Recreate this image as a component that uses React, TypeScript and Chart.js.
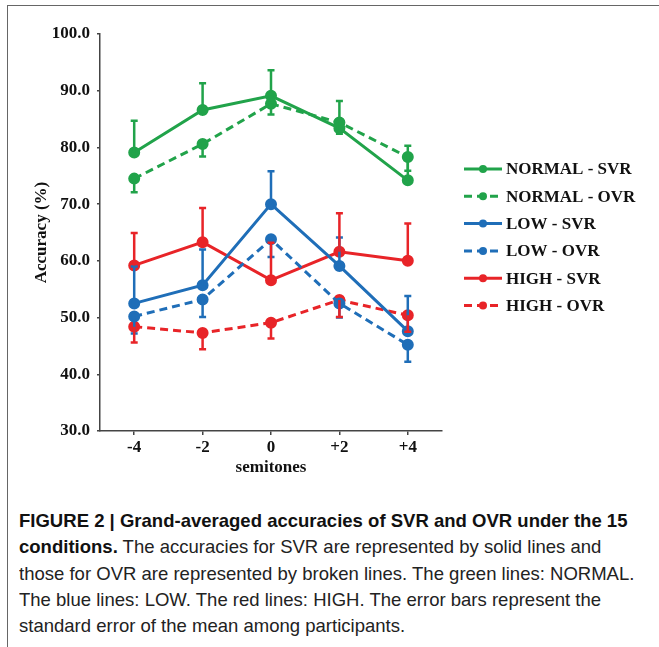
import React, { useEffect, useRef } from "react";
import { Chart, registerables } from "chart.js";

Chart.register(...registerables);

const categories = ["-4", "-2", "0", "+2", "+4"];

const normalSvr = [79.1, 86.6, 89.1, 83.4, 74.2];
const normalSvrErr = [5.6, 4.7, 4.5, 4.8, 6.1];
const normalOvr = [74.5, 80.6, 87.7, 84.4, 78.3];
const normalOvrErr = [2.4, 2.2, 1.9, 2.0, 2.4];
const lowSvr = [52.5, 55.7, 70.0, 59.1, 47.6];
const lowSvrErr = [6.5, 6.3, 5.8, 5.0, 6.2];
const lowOvr = [50.2, 53.2, 63.8, 52.5, 45.2];
const lowOvrErr = [3.0, 3.1, 3.1, 2.5, 3.0];
const highSvr = [59.2, 63.3, 56.6, 61.6, 60.0];
const highSvrErr = [5.7, 6.0, 6.6, 6.8, 6.6];
const highOvr = [48.4, 47.3, 49.1, 53.1, 50.4];
const highOvrErr = [2.8, 2.9, 2.8, 3.0, 2.9];

const seriesLabels = [
  "NORMAL - SVR",
  "NORMAL - OVR",
  "LOW - SVR",
  "LOW - OVR",
  "HIGH - SVR",
  "HIGH - OVR",
];

const GREEN = "rgb(33,163,74)";
const BLUE = "rgb(31,110,184)";
const RED = "rgb(232,36,40)";
const AXIS = "#444";
const SERIF = "'Liberation Serif', 'Times New Roman', serif";

const errorBarPlugin = {
  id: "errorBars",
  afterDatasetsDraw(chart: any) {
    const ctx = chart.ctx;
    const xs = chart.scales.x;
    const ys = chart.scales.y;
    chart.data.datasets.forEach((ds: any) => {
      const errs: number[] = ds.errors;
      const dir: number = ds.errDir;
      ctx.save();
      ctx.strokeStyle = ds.borderColor;
      ctx.lineWidth = 2.5;
      ctx.setLineDash([]);
      ds.data.forEach((v: number, i: number) => {
        const x = xs.getPixelForValue(i);
        const y0 = ys.getPixelForValue(v);
        const y1 = ys.getPixelForValue(v + dir * errs[i]);
        ctx.beginPath();
        ctx.moveTo(x, y0);
        ctx.lineTo(x, y1);
        ctx.moveTo(x - 3.5, y1);
        ctx.lineTo(x + 3.5, y1);
        ctx.stroke();
      });
      ctx.restore();
    });
  },
};

const legendPlugin = {
  id: "customLegend",
  afterDraw(chart: any) {
    const ctx = chart.ctx;
    const x0 = 464;
    const x1 = 502;
    const yStart = 169;
    const step = 27.3;
    chart.data.datasets.forEach((ds: any, i: number) => {
      const y = yStart + i * step;
      ctx.save();
      ctx.strokeStyle = ds.borderColor;
      ctx.lineWidth = 3;
      ctx.setLineDash(ds.borderDash || []);
      ctx.beginPath();
      ctx.moveTo(x0, y);
      ctx.lineTo(x1, y);
      ctx.stroke();
      ctx.setLineDash([]);
      ctx.fillStyle = ds.borderColor;
      ctx.beginPath();
      ctx.arc((x0 + x1) / 2, y, 4, 0, Math.PI * 2);
      ctx.fill();
      ctx.fillStyle = "#111";
      ctx.font = `bold 17px ${SERIF}`;
      ctx.textBaseline = "middle";
      ctx.textAlign = "left";
      ctx.fillText(ds.label, 506, y + 1);
      ctx.restore();
    });
  },
};

function mk(label: string, data: number[], errors: number[], color: string, dashed: boolean) {
  return {
    label,
    data,
    errors,
    errDir: dashed ? -1 : 1,
    borderColor: color,
    backgroundColor: color,
    pointBackgroundColor: color,
    pointBorderColor: color,
    borderWidth: 3,
    borderDash: dashed ? [8, 5] : [],
    pointRadius: 4.5,
    pointHoverRadius: 4.5,
    tension: 0,
    fill: false,
  };
}

const captionLines: { bold?: string; text: string }[] = [
  { bold: "FIGURE 2 | Grand-averaged accuracies of SVR and OVR under the 15", text: "" },
  { bold: "conditions.", text: " The accuracies for SVR are represented by solid lines and" },
  { text: "those for OVR are represented by broken lines. The green lines: NORMAL." },
  { text: "The blue lines: LOW. The red lines: HIGH. The error bars represent the" },
  { text: "standard error of the mean among participants." },
];

export default function App() {
  const ref = useRef<HTMLCanvasElement | null>(null);
  useEffect(() => {
    if (!ref.current) return;
    const chart = new Chart(ref.current, {
      type: "line",
      data: {
        labels: categories,
        datasets: [
          mk(seriesLabels[0], normalSvr, normalSvrErr, GREEN, false),
          mk(seriesLabels[1], normalOvr, normalOvrErr, GREEN, true),
          mk(seriesLabels[2], lowSvr, lowSvrErr, BLUE, false),
          mk(seriesLabels[3], lowOvr, lowOvrErr, BLUE, true),
          mk(seriesLabels[4], highSvr, highSvrErr, RED, false),
          mk(seriesLabels[5], highOvr, highOvrErr, RED, true),
        ] as any,
      },
      options: {
        animation: false,
        responsive: false,
        devicePixelRatio: 1,
        layout: { padding: { top: 34, right: 217, bottom: 0, left: 0 } },
        plugins: { legend: { display: false }, tooltip: { enabled: false } },
        scales: {
          x: {
            type: "category",
            offset: true,
            afterFit: (s: any) => {
              s.height = 59;
            },
            grid: { drawOnChartArea: false, drawTicks: true, tickLength: 4, color: AXIS, lineWidth: 1.5 },
            border: { color: AXIS, width: 1.5 },
            ticks: { color: "#111", font: { family: SERIF, size: 17, weight: "bold" }, padding: 2, maxRotation: 0 },
            title: {
              display: true,
              text: "semitones",
              color: "#111",
              font: { family: SERIF, size: 17, weight: "bold" },
              padding: { top: 0, bottom: 12 },
            },
          },
          y: {
            min: 30,
            max: 100,
            afterFit: (s: any) => {
              s.width = 100;
            },
            grid: { drawOnChartArea: false, drawTicks: true, tickLength: 3, color: AXIS, lineWidth: 1.5 },
            border: { color: AXIS, width: 1.5 },
            ticks: {
              stepSize: 10,
              color: "#111",
              font: { family: SERIF, size: 17, weight: "bold" },
              padding: 7,
              callback: (v: any) => Number(v).toFixed(1),
            },
            title: {
              display: true,
              text: "Accuracy (%)",
              color: "#111",
              font: { family: SERIF, size: 17, weight: "bold" },
              padding: { top: 31, bottom: 0 },
            },
          },
        },
      } as any,
      plugins: [errorBarPlugin, legendPlugin],
    });
    return () => chart.destroy();
  }, []);

  return (
    <div
      style={{
        position: "absolute",
        left: 0,
        top: 0,
        width: 659,
        height: 647,
        background: "#fff",
        overflow: "hidden",
      }}
    >
      <div
        style={{
          position: "absolute",
          left: 7,
          top: 5,
          width: 659,
          height: 660,
          borderLeft: "1.5px solid #666",
          borderTop: "1.5px solid #666",
        }}
      />
      <canvas
        ref={ref}
        width={659}
        height={490}
        style={{ position: "absolute", left: 0, top: 0, width: 659, height: 490 }}
      />
      <div
        style={{
          position: "absolute",
          left: 19,
          top: 508,
          width: 700,
          fontFamily: "'Liberation Sans', Arial, sans-serif",
          fontSize: 19,
          lineHeight: "26.3px",
          color: "#222",
          whiteSpace: "nowrap",
          transform: "scaleX(0.975)",
          transformOrigin: "0 0",
        }}
      >
        {captionLines.map((l, i) => (
          <div key={i}>
            {l.bold ? <b style={{ color: "#111" }}>{l.bold}</b> : null}
            {l.text}
          </div>
        ))}
      </div>
    </div>
  );
}
